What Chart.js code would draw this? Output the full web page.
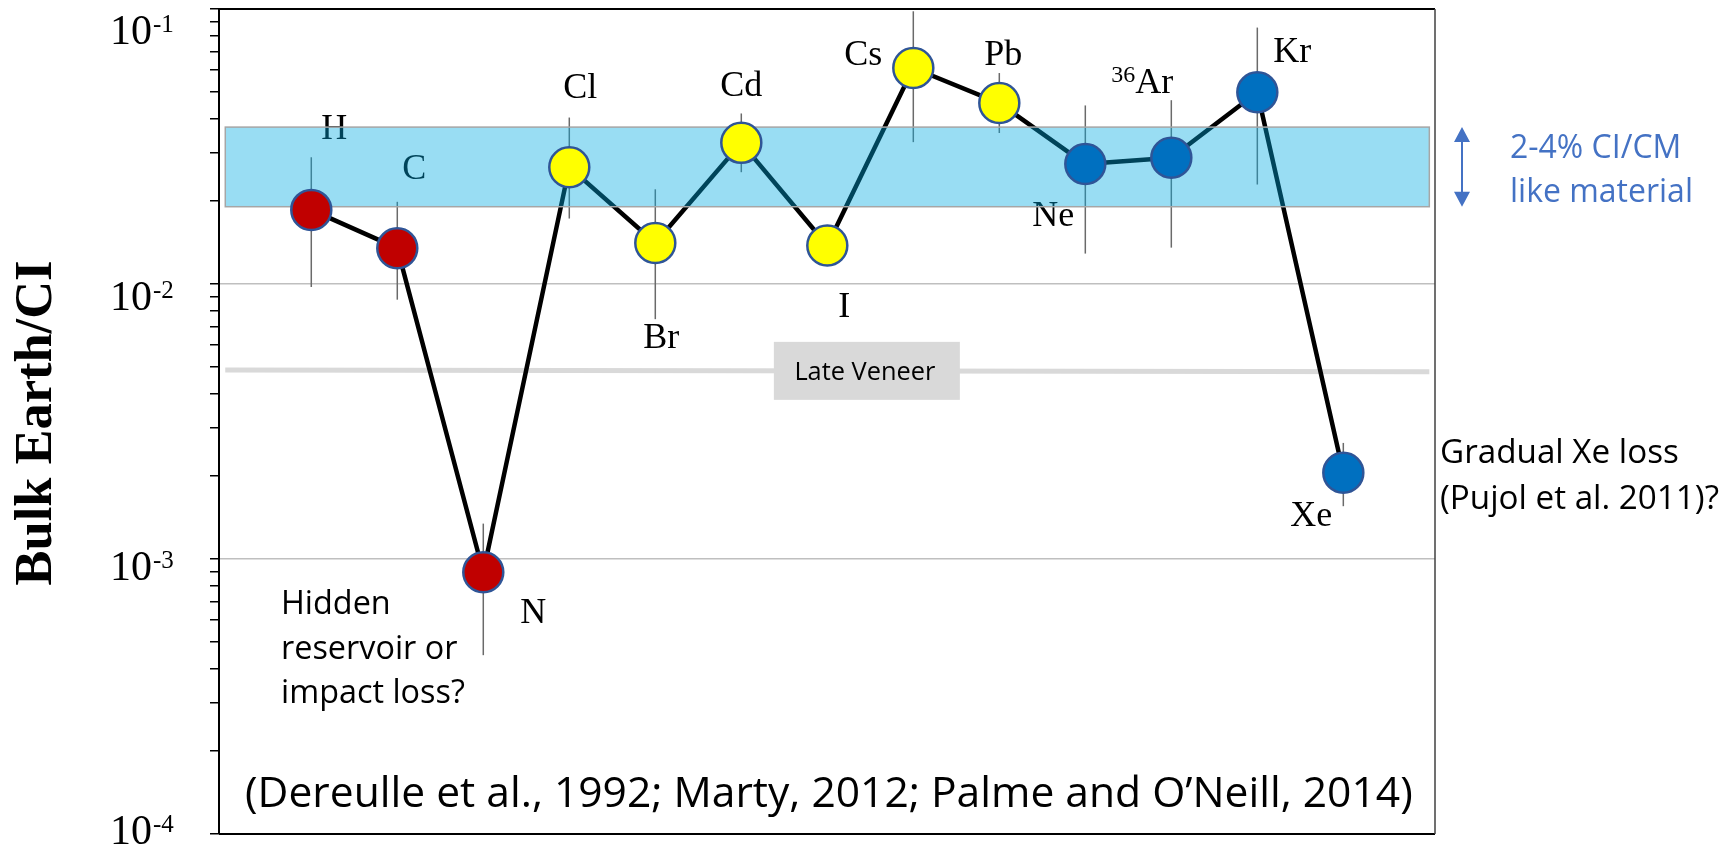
<!DOCTYPE html>
<html lang="en">
<head>
  <meta charset="UTF-8" />
  <title>Bulk Earth / CI</title>
  <script src="https://cdn.jsdelivr.net/npm/chart.js"></script>
  <style>
    html, body { margin: 0; padding: 0; background: #fff; }
    #wrap { width: 1733px; height: 847px; }
  </style>
</head>
<body>
  <div id="wrap"><canvas id="chart" width="1733" height="847"></canvas></div>

  <script>
    // Bulk Earth abundances normalised to CI chondrite
    const elements = ['H', 'C', 'N', 'Cl', 'Br', 'Cd', 'I', 'Cs', 'Pb', 'Ne', '36Ar', 'Kr', 'Xe'];
    const groups   = ['light', 'light', 'light', 'volatile', 'volatile', 'volatile', 'volatile', 'volatile', 'volatile', 'noble', 'noble', 'noble', 'noble'];
    const ratios   = [0.0186, 0.0135, 0.000895, 0.0266, 0.0141, 0.0326, 0.0138, 0.0610, 0.0455, 0.0273, 0.0288, 0.0498, 0.00206];
    const errLow   = [0.00975, 0.00877, 0.000447, 0.0173, 0.00745, 0.0255, null, 0.0328, 0.0354, 0.0129, 0.01356, 0.0230, 0.001556];
    const errHigh  = [0.0289, 0.0199, 0.001345, 0.0403, 0.0221, 0.0417, null, 0.0981, 0.0585, 0.0446, 0.0466, 0.0856, 0.002643];

    // 2-4% CI/CM band and the late veneer level
    const ciBand = [0.0191, 0.0372];
    const veneerX = [-1, 13];
    const veneerY = [0.00487, 0.00480];
    const yTickExponents = [-1, -2, -3, -4];

    const groupColor = { light: '#C00000', volatile: '#FFFF00', noble: '#0070C0' };
    const SERIF = '"Liberation Serif", "Times New Roman", serif';
    const SANS = '"Open Sans", "Noto Sans", sans-serif';

    // label offsets from the marker centre (dx, baseline dy)
    const labelOffset = {
      H: [23, -71], C: [17, -69], N: [50, 51], Cl: [11, -69], Br: [6, 105], Cd: [0, -47],
      I: [17, 71], Cs: [-50, -3], Pb: [4, -38], Ne: [-32, 62], '36Ar': [-29, -65], Kr: [35, -30], Xe: [-32, 53]
    };
    // how far each decade label sits below its tick
    const tickLabelDrop = { '-1': 35, '-2': 26, '-3': 21, '-4': 10 };

    const points = ratios.map((v, i) => ({ x: i, y: v }));

    function fitSize(ctx, text, width, family, weight) {
      ctx.font = `${weight || 'normal'} 100px ${family}`;
      return 100 * width / ctx.measureText(text).width;
    }

    function drawLines(ctx, lines, x, y0, gap, size, color, align) {
      ctx.save();
      ctx.font = `${size}px ${SANS}`;
      ctx.fillStyle = color;
      ctx.textAlign = align || 'left';
      ctx.textBaseline = 'alphabetic';
      lines.forEach((t, k) => ctx.fillText(t, x, y0 + k * gap));
      ctx.restore();
    }

    const overlay = {
      id: 'overlay',
      beforeDatasetsDraw(chart) {
        const { ctx, scales: { x, y } } = chart;
        ctx.save();
        ctx.strokeStyle = '#6A6A6A';
        ctx.lineWidth = 1.5;
        elements.forEach((el, i) => {
          if (errLow[i] == null) return;
          const px = x.getPixelForValue(i);
          ctx.beginPath();
          ctx.moveTo(px, y.getPixelForValue(errLow[i]));
          ctx.lineTo(px, y.getPixelForValue(errHigh[i]));
          ctx.stroke();
        });
        ctx.restore();
      },
      afterDatasetDraw(chart, args) {
        if (args.index !== 1) return;
        const { ctx, scales: { x, y } } = chart;

        // element symbols
        ctx.save();
        ctx.fillStyle = '#000';
        ctx.textBaseline = 'alphabetic';
        elements.forEach((el, i) => {
          const [dx, dy] = labelOffset[el];
          const cx = x.getPixelForValue(i) + dx;
          const by = y.getPixelForValue(ratios[i]) + dy;
          if (el === '36Ar') {
            ctx.font = `24px ${SERIF}`;
            const w1 = ctx.measureText('36').width;
            ctx.font = `36px ${SERIF}`;
            const w2 = ctx.measureText('Ar').width;
            const left = cx - (w1 + w2) / 2;
            ctx.textAlign = 'left';
            ctx.font = `24px ${SERIF}`;
            ctx.fillText('36', left, by - 11);
            ctx.font = `36px ${SERIF}`;
            ctx.fillText('Ar', left + w1, by);
          } else {
            ctx.font = `36px ${SERIF}`;
            ctx.textAlign = 'center';
            ctx.fillText(el, cx, by);
          }
        });
        ctx.restore();

        // translucent CI/CM band laid over the line
        const x0 = x.getPixelForValue(veneerX[0]);
        const x1 = x.getPixelForValue(veneerX[1]);
        const yTop = y.getPixelForValue(ciBand[1]);
        const yBot = y.getPixelForValue(ciBand[0]);
        ctx.save();
        ctx.fillStyle = 'rgba(0, 170, 225, 0.4)';
        ctx.fillRect(x0, yTop, x1 - x0, yBot - yTop);
        ctx.strokeStyle = '#A6A6A6';
        ctx.lineWidth = 1.5;
        ctx.strokeRect(x0, yTop, x1 - x0, yBot - yTop);
        ctx.restore();
      },
      afterDraw(chart) {
        const { ctx, chartArea: ca, scales: { x, y } } = chart;

        // frame
        ctx.save();
        ctx.strokeStyle = '#000';
        ctx.lineWidth = 2;
        ctx.beginPath();
        ctx.moveTo(ca.left, ca.top); ctx.lineTo(ca.right, ca.top);
        ctx.moveTo(ca.left, ca.bottom); ctx.lineTo(ca.right, ca.bottom);
        ctx.stroke();
        ctx.strokeStyle = '#404040';
        ctx.lineWidth = 1.5;
        ctx.beginPath();
        ctx.moveTo(ca.right, ca.top); ctx.lineTo(ca.right, ca.bottom);
        ctx.stroke();
        ctx.restore();

        // decade labels 10^n
        ctx.save();
        ctx.fillStyle = '#000';
        ctx.textBaseline = 'alphabetic';
        yTickExponents.forEach(e => {
          const by = y.getPixelForValue(Math.pow(10, e)) + tickLabelDrop[e];
          const right = ca.left - 67;
          ctx.font = `42px ${SERIF}`;
          ctx.textAlign = 'right';
          ctx.fillText('10', right, by);
          ctx.font = `25px ${SERIF}`;
          ctx.textAlign = 'left';
          ctx.fillText(String(e), right + 1, by - 12);
        });
        ctx.restore();

        // axis title
        const title = 'Bulk Earth/CI';
        const tSize = fitSize(ctx, title, 325, SERIF, 'bold');
        ctx.save();
        ctx.translate(51, 423);
        ctx.rotate(-Math.PI / 2);
        ctx.font = `bold ${tSize}px ${SERIF}`;
        ctx.fillStyle = '#000';
        ctx.textAlign = 'center';
        ctx.fillText(title, 0, 0);
        ctx.restore();

        // late veneer tag on the grey line
        const vx = x.getPixelForValue(6.46);
        const t = (6.46 - veneerX[0]) / (veneerX[1] - veneerX[0]);
        const vy = y.getPixelForValue(veneerY[0] * Math.pow(veneerY[1] / veneerY[0], t));
        ctx.save();
        ctx.fillStyle = '#D9D9D9';
        ctx.fillRect(vx - 93, vy - 29, 186, 58);
        ctx.restore();
        const lvSize = fitSize(ctx, 'Late Veneer', 141, SANS);
        drawLines(ctx, ['Late Veneer'], vx - 2, vy + 9.5, 0, lvSize, '#000', 'center');

        // double arrow spanning the band
        const ax = ca.right + 27;
        const aTop = y.getPixelForValue(ciBand[1]);
        const aBot = y.getPixelForValue(ciBand[0]);
        ctx.save();
        ctx.strokeStyle = '#4472C4';
        ctx.fillStyle = '#4472C4';
        ctx.lineWidth = 2;
        ctx.beginPath();
        ctx.moveTo(ax, aTop + 12); ctx.lineTo(ax, aBot - 12);
        ctx.stroke();
        ctx.beginPath();
        ctx.moveTo(ax, aTop); ctx.lineTo(ax - 8, aTop + 15); ctx.lineTo(ax + 8, aTop + 15); ctx.closePath();
        ctx.moveTo(ax, aBot); ctx.lineTo(ax - 8, aBot - 15); ctx.lineTo(ax + 8, aBot - 15); ctx.closePath();
        ctx.fill();
        ctx.restore();

        const bandSize = fitSize(ctx, 'like material', 183, SANS);
        drawLines(ctx, ['2-4% CI/CM', 'like material'], ca.right + 75, 158, 43.5, bandSize, '#4472C4');

        const xeSize = fitSize(ctx, '(Pujol et al. 2011)?', 279, SANS);
        drawLines(ctx, ['Gradual Xe loss', '(Pujol et al. 2011)?'], ca.right + 5, 463, 45.5, xeSize, '#000');

        const nSize = fitSize(ctx, 'impact loss?', 184, SANS);
        drawLines(ctx, ['Hidden', 'reservoir or', 'impact loss?'], 281, 614, 44.5, nSize, '#000');

        const cite = '(Dereulle et al., 1992; Marty, 2012; Palme and O\u2019Neill, 2014)';
        const cSize = fitSize(ctx, cite, 1168, SANS);
        drawLines(ctx, [cite], 245, 807, 0, cSize, '#000');
      }
    };

    const ctx = document.getElementById('chart').getContext('2d');

    const chart = new Chart(ctx, {
      type: 'line',
      data: {
        datasets: [
          {
            label: 'Late veneer',
            data: veneerX.map((vx, i) => ({ x: vx, y: veneerY[i] })),
            borderColor: '#D9D9D9',
            borderWidth: 5,
            pointRadius: 0,
            order: 3
          },
          {
            label: 'Bulk Earth/CI',
            data: points,
            borderColor: '#000',
            borderWidth: 4.5,
            borderJoinStyle: 'round',
            pointRadius: 0,
            order: 2
          },
          {
            label: 'markers',
            data: points,
            showLine: false,
            pointRadius: 20,
            pointHoverRadius: 20,
            pointBorderWidth: 2.5,
            pointBackgroundColor: groups.map(g => groupColor[g]),
            pointBorderColor: '#2F5597',
            order: 1
          }
        ]
      },
      options: {
        responsive: false,
        animation: false,
        layout: {
          autoPadding: false,
          padding: { top: 9, right: 298, bottom: 13, left: 0 }
        },
        plugins: {
          legend: { display: false },
          tooltip: { enabled: false }
        },
        scales: {
          x: {
            type: 'linear',
            display: false,
            min: -1.073,
            max: 13.066
          },
          y: {
            type: 'logarithmic',
            min: 1e-4,
            max: 1e-1,
            afterFit(scale) { scale.width = 219; },
            afterBuildTicks(scale) {
              const ticks = [];
              for (let e = -4; e < -1; e++) {
                for (let m = 1; m < 10; m++) ticks.push({ value: m * Math.pow(10, e), major: m === 1 });
              }
              ticks.push({ value: 0.1, major: true });
              scale.ticks = ticks;
            },
            border: { display: true, color: '#000', width: 2 },
            grid: {
              color: c => {
                const v = c.tick && c.tick.value;
                return (v === 0.01 || v === 0.001) ? '#BFBFBF' : 'rgba(0,0,0,0)';
              },
              lineWidth: 1.5,
              tickColor: '#000',
              tickWidth: 1.5,
              tickLength: 9
            },
            ticks: {
              autoSkip: false,
              callback: () => '',
              font: { size: 1 }
            }
          }
        }
      },
      plugins: [overlay]
    });
  </script>
</body>
</html>
